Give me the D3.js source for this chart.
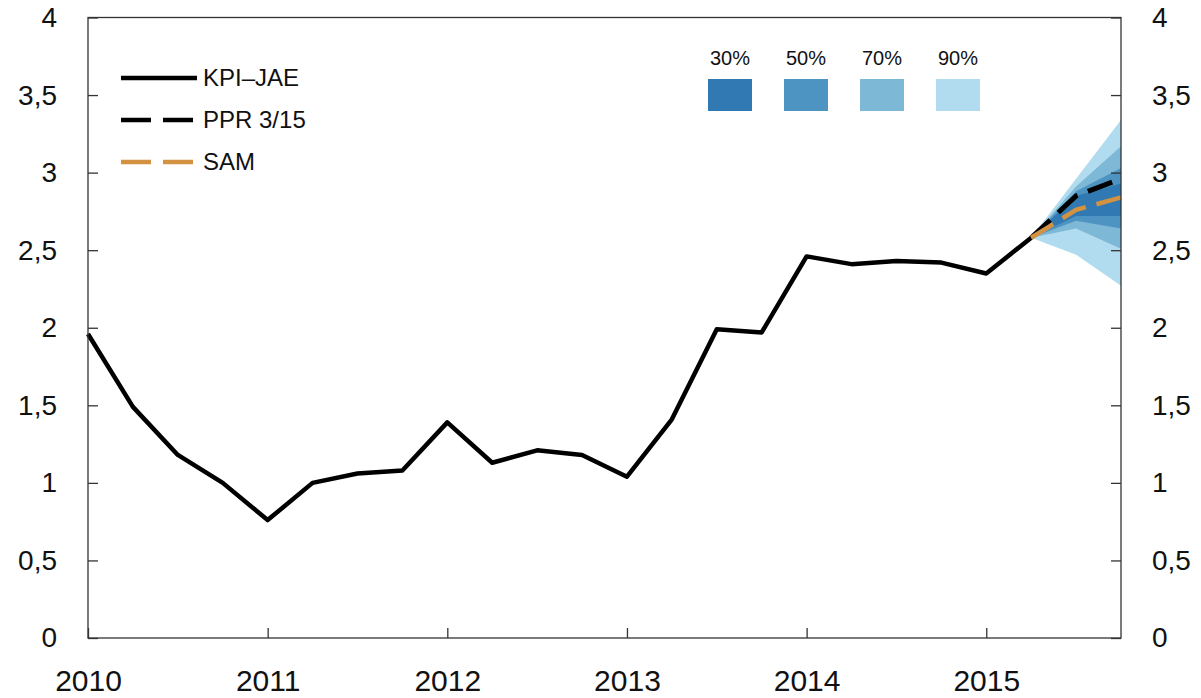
<!DOCTYPE html>
<html>
<head>
<meta charset="utf-8">
<script src="https://cdn.jsdelivr.net/npm/d3@7"></script>
<style>
body { margin: 0; background: #fff; }
text { font-family: "Liberation Sans", Arial, Helvetica, sans-serif; fill: #111; }
</style>
</head>
<body>
<div id="chart"></div>
<script>
// quarterly history, KPI-JAE (percent)
var quarters = [2010, 2010.25, 2010.5, 2010.75, 2011, 2011.25, 2011.5, 2011.75,
  2012, 2012.25, 2012.5, 2012.75, 2013, 2013.25, 2013.5, 2013.75,
  2014, 2014.25, 2014.5, 2014.75, 2015, 2015.25];
var kpiJae = [1.96, 1.49, 1.18, 1.00, 0.76, 1.00, 1.06, 1.08,
  1.39, 1.13, 1.21, 1.18, 1.04, 1.41, 1.99, 1.97,
  2.46, 2.41, 2.43, 2.42, 2.35, 2.58];

// projections
var fcQuarters = [2015.25, 2015.5, 2015.75];
var ppr = [2.58, 2.85, 2.96];
var sam = [2.58, 2.76, 2.84];

// fan bands (low / high) by interval
var bandNames = ["90%", "70%", "50%", "30%"];
var bandLow = {
  "90%": [2.58, 2.47, 2.27],
  "70%": [2.58, 2.64, 2.51],
  "50%": [2.58, 2.69, 2.64],
  "30%": [2.58, 2.72, 2.72]
};
var bandHigh = {
  "90%": [2.58, 2.96, 3.34],
  "70%": [2.58, 2.91, 3.17],
  "50%": [2.58, 2.88, 3.03],
  "30%": [2.58, 2.85, 2.93]
};
var bandColor = { "30%": "#3079b2", "50%": "#4d94c3", "70%": "#7db8d6", "90%": "#b1dcf0" };
var legendBands = ["30%", "50%", "70%", "90%"];

var seriesNames = ["KPI\u2013JAE", "PPR 3/15", "SAM"];
var yTicks = [0, 0.5, 1, 1.5, 2, 2.5, 3, 3.5, 4];
var xTicks = [2010, 2011, 2012, 2013, 2014, 2015];

var W = 1201, H = 698;
var margin = { top: 17.5, right: 80, bottom: 60, left: 88 };
var width = W - margin.left - margin.right,
  height = H - margin.top - margin.bottom;

var x = d3.scaleLinear().domain([2010, 2015.75]).range([0, width]);
var y = d3.scaleLinear().domain([0, 4]).range([height, 0]);

var svg = d3.select("#chart").append("svg")
  .attr("width", W).attr("height", H)
  .append("g")
  .attr("transform", "translate(" + margin.left + "," + margin.top + ")");

var fmt = function (d) { return String(d).replace(".", ","); };

// fan chart, widest first
bandNames.forEach(function (b) {
  var area = d3.area()
    .x(function (d, i) { return x(fcQuarters[i]); })
    .y0(function (d, i) { return y(bandLow[b][i]); })
    .y1(function (d, i) { return y(bandHigh[b][i]); });
  svg.append("path")
    .datum(fcQuarters)
    .attr("d", area)
    .attr("fill", bandColor[b]);
});

var line = d3.line()
  .x(function (d) { return x(d[0]); })
  .y(function (d) { return y(d[1]); });

svg.append("path")
  .datum(d3.zip(quarters, kpiJae))
  .attr("d", line)
  .attr("fill", "none").attr("stroke", "#000")
  .attr("stroke-width", 4.5).attr("stroke-linejoin", "round");

svg.append("path")
  .datum(d3.zip(fcQuarters, ppr))
  .attr("d", line)
  .attr("fill", "none").attr("stroke", "#000")
  .attr("stroke-width", 5).attr("stroke-dasharray", "26,11");

svg.append("path")
  .datum(d3.zip(fcQuarters, sam))
  .attr("d", line)
  .attr("fill", "none").attr("stroke", "#d39142")
  .attr("stroke-width", 4.5).attr("stroke-dasharray", "26,11");

// frame
svg.append("rect")
  .attr("width", width).attr("height", height)
  .attr("fill", "none").attr("stroke", "#333").attr("stroke-width", 1.3);

// axes, ticks point inward
var left = svg.append("g")
  .call(d3.axisLeft(y).tickValues(yTicks).tickFormat(fmt).tickSize(-10).tickSizeOuter(0).tickPadding(31));
var right = svg.append("g")
  .attr("transform", "translate(" + width + ",0)")
  .call(d3.axisRight(y).tickValues(yTicks).tickFormat(fmt).tickSize(-10).tickSizeOuter(0).tickPadding(31));
var bottom = svg.append("g")
  .attr("transform", "translate(0," + height + ")")
  .call(d3.axisBottom(x).tickValues(xTicks).tickFormat(d3.format("d")).tickSize(-10).tickSizeOuter(0).tickPadding(32));

[left, right, bottom].forEach(function (g) {
  g.select(".domain").remove();
  g.selectAll(".tick line").attr("stroke", "#333").attr("stroke-width", 1.3);
  g.selectAll(".tick text").style("font-size", "28px").attr("fill", "#111");
});
bottom.selectAll(".tick text").style("font-size", "30px");

// line legend
var leg = svg.append("g").attr("transform", "translate(33,60.5)");
var legStyle = [
  { stroke: "#000", dash: null },
  { stroke: "#000", dash: "30,12" },
  { stroke: "#d39142", dash: "30,12" }
];
seriesNames.forEach(function (name, i) {
  var row = leg.append("g").attr("transform", "translate(0," + i * 42 + ")");
  row.append("line")
    .attr("x1", 0).attr("x2", 76)
    .attr("stroke", legStyle[i].stroke).attr("stroke-width", 4.5)
    .attr("stroke-dasharray", legStyle[i].dash);
  row.append("text")
    .attr("x", 82).attr("dy", "0.35em")
    .style("font-size", "24px")
    .text(name);
});

// fan legend
var fanLeg = svg.append("g").attr("transform", "translate(620,0)");
legendBands.forEach(function (b, i) {
  var g = fanLeg.append("g").attr("transform", "translate(" + i * 76 + ",0)");
  g.append("rect")
    .attr("x", 0).attr("y", 61.5).attr("width", 44).attr("height", 32)
    .attr("fill", bandColor[b]);
  g.append("text")
    .attr("x", 22).attr("y", 47)
    .attr("text-anchor", "middle")
    .style("font-size", "20px")
    .text(b);
});
</script>
</body>
</html>
